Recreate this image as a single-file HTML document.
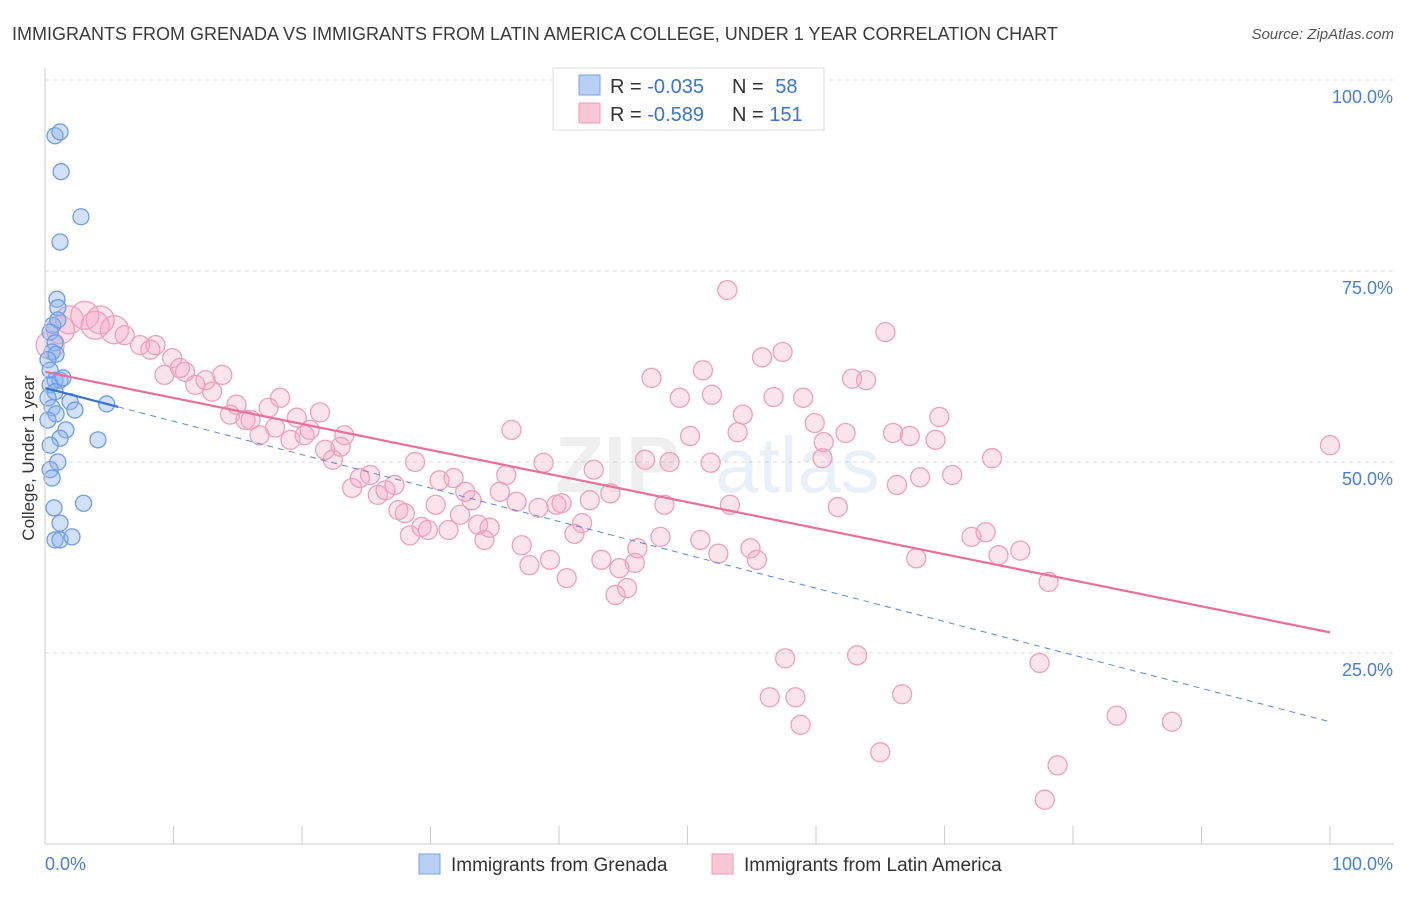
<!DOCTYPE html>
<html><head><meta charset="utf-8"><style>
body{margin:0;background:#fff;font-family:"Liberation Sans",sans-serif;}
svg text{font-family:"Liberation Sans",sans-serif;}
</style></head><body>
<svg id="chart" width="1406" height="892" viewBox="0 0 1406 892" xmlns="http://www.w3.org/2000/svg">
<text x="12" y="40" font-size="18" fill="#3a3a3a">IMMIGRANTS FROM GRENADA VS IMMIGRANTS FROM LATIN AMERICA COLLEGE, UNDER 1 YEAR CORRELATION CHART</text>
<text x="1394" y="39" font-size="15" fill="#555" font-style="italic" text-anchor="end">Source: ZipAtlas.com</text>
<g id="grid"></g>
<g opacity="0.13"><text x="555" y="492" font-size="80" font-weight="bold" fill="#888">ZIP</text><text x="715" y="492" font-size="78" fill="#5b8fd6">atlas</text></g>
<g id="marks"></g>
<g id="axes"></g>
<text transform="translate(34,458) rotate(-90)" font-size="17" fill="#333" text-anchor="middle">College, Under 1 year</text>
<g>
<rect x="553" y="68" width="271" height="62" fill="#fff" stroke="#ddd"/>
<rect x="579" y="75" width="21" height="20" fill="#b8d0f5" stroke="#7ba3e6"/>
<rect x="579" y="103" width="21" height="20" fill="#f9c6d6" stroke="#f09ab5"/>
<text x="610" y="93" font-size="20" fill="#333">R = <tspan fill="#3d74d0">-0.035</tspan></text>
<text x="732" y="93" font-size="20" fill="#333">N = <tspan fill="#3d74d0" dx="6">58</tspan></text>
<text x="610" y="121" font-size="20" fill="#333">R = <tspan fill="#3d74d0">-0.589</tspan></text>
<text x="732" y="121" font-size="20" fill="#333">N = <tspan fill="#3d74d0">151</tspan></text>
</g>
<g>
<rect x="419" y="854" width="21" height="20" fill="#b8d0f5" stroke="#7ba3e6"/>
<text x="451" y="871" font-size="19" fill="#333">Immigrants from Grenada</text>
<rect x="712" y="854" width="21" height="20" fill="#f9c6d6" stroke="#f09ab5"/>
<text x="744" y="871" font-size="19" fill="#333">Immigrants from Latin America</text>
</g>
</svg>
<script>
const yTicks=[25,50,75,100];
const yTickLabels=["25.0%","50.0%","75.0%","100.0%"];
const xTicks=[0,10,20,30,40,50,60,70,80,90,100];
const blueX=[0.78,1.17,1.25,2.8,1.17,0.93,1.0,0.6,1.0,0.4,0.78,0.55,0.86,0.23,0.4,0.78,1.17,1.4,0.4,0.78,0.23,1.95,2.33,0.55,0.86,1.63,1.17,4.12,0.4,1.0,0.4,0.55,3.0,0.7,1.17,0.78,1.17,2.1,4.8,0.23];
const blueY=[92.7,93.2,88.0,82.1,78.8,71.3,70.2,67.9,68.6,67.0,65.6,64.4,64.1,63.4,62.0,60.7,60.7,61.0,60.1,59.2,58.4,57.9,56.8,57.1,56.3,54.2,53.1,52.9,52.2,50.0,49.0,47.9,44.6,44.0,42.0,39.8,39.8,40.2,57.6,55.5];
const pinkX=[0.4,1.2,1.9,3.1,4.3,3.9,5.4,6.2,7.4,8.6,8.2,9.3,9.9,10.5,10.9,11.7,12.5,13.0,13.8,14.4,14.9,15.6,16.0,16.7,17.4,18.3,17.9,19.1,19.6,20.2,20.6,21.4,21.8,22.4,23.0,23.3,23.9,24.5,25.3,25.9,26.5,27.2,27.5,28.0,28.4,28.8,29.3,29.8,30.4,30.7,31.4,31.8,32.3,32.7,33.2,33.7,34.2,34.6,35.4,35.9,36.3,36.7,37.1,37.7,38.4,38.8,39.3,39.8,40.2,40.6,41.2,41.8,42.4,42.7,43.3,44.0,44.4,44.7,45.3,45.9,46.1,46.7,47.2,47.9,48.2,48.6,49.4,50.2,51.0,51.2,51.8,51.9,52.4,53.1,53.3,53.9,54.3,54.9,55.4,55.8,56.4,56.7,57.4,57.6,58.4,58.8,59.0,59.9,60.5,60.6,61.7,62.3,62.8,63.2,63.9,65.0,65.4,66.0,66.3,66.7,67.3,67.8,68.1,69.3,69.6,70.6,72.1,73.2,73.7,74.2,75.9,77.4,77.8,78.1,78.8,83.4,87.7,100];
const pinkY=[65.3,67.3,68.6,69.2,68.6,67.9,67.3,66.6,65.3,65.3,64.7,61.4,63.6,62.3,61.8,60.1,60.7,59.2,61.4,56.2,57.5,55.5,55.5,53.5,57.1,58.4,54.5,52.9,55.8,53.5,54.2,56.5,51.6,50.3,52.0,53.5,46.6,47.9,48.3,45.7,46.3,47.0,43.7,43.3,40.4,50.0,41.5,41.1,44.4,47.6,41.1,47.9,43.1,46.1,45.0,41.8,39.8,41.4,46.1,48.3,54.2,44.8,39.1,36.5,44.0,49.9,37.2,44.4,44.6,34.8,40.6,42.0,45.0,49.0,37.2,45.9,32.6,36.1,33.5,36.8,38.7,50.3,61.0,40.2,44.4,50.0,58.4,53.4,39.8,62.0,49.9,58.8,38.0,72.5,44.4,53.9,56.2,38.7,37.2,63.7,19.2,58.5,64.4,24.3,19.2,15.6,58.4,55.1,50.5,52.6,44.1,53.8,60.9,24.7,60.7,12.0,67.0,53.8,47.0,19.6,53.4,37.4,48.0,52.9,55.9,48.3,40.2,40.8,50.5,37.8,38.4,23.7,5.8,34.3,10.3,16.8,16.0,52.2];
const blueLine=[59.7,-0.437];
const pinkLine=[61.8,-0.341];
const NS="http://www.w3.org/2000/svg";
const X0=45,X1=1330,Y0=844,Y100=80;
const sx=v=>X0+(X1-X0)*v/100;
const sy=v=>Y0-(Y0-Y100)*v/100;
function mk(t,a,p){const e=document.createElementNS(NS,t);for(const k in a)e.setAttribute(k,a[k]);p.appendChild(e);return e;}
const grid=document.getElementById('grid'),axes=document.getElementById('axes'),marks=document.getElementById('marks');
yTicks.forEach((t,i)=>{
 const l=mk('line',{x1:X0,x2:1394,y1:sy(t),y2:sy(t),stroke:'#ddd','stroke-dasharray':'4,4'},grid);
 
 
 const tx=mk('text',{x:1393,y:sy(t)+23,'font-size':18,fill:'#4a7fd4','text-anchor':'end'},axes);
 tx.textContent=yTickLabels[i];
 
 
});
const ax=mk('line',{x1:X0,x2:1394,y1:Y0,y2:Y0,stroke:'#ccc'},axes);


const ay=mk('line',{x1:X0,x2:X0,y1:68,y2:Y0,stroke:'#ccc'},axes);


xTicks.forEach(t=>{
 const l=mk('line',{x1:sx(t),x2:sx(t),y1:Y0-18,y2:Y0,stroke:'#ccc'},axes);
 
 
});
const xl=mk('text',{x:45,y:870,'font-size':18,fill:'#4a7fd4'},axes);xl.textContent='0.0%';


const xr=mk('text',{x:1393,y:870,'font-size':18,fill:'#4a7fd4','text-anchor':'end'},axes);xr.textContent='100.0%';


pinkX.forEach((x,i)=>{
 const r=(x<6&&pinkY[i]>64)?14:9.5;
 const c=mk('circle',{cx:sx(x),cy:sy(pinkY[i]),r:r,fill:'rgba(245,165,195,0.3)',stroke:'#f0a0bb','stroke-width':1.3},marks);
 
 
});
blueX.forEach((x,i)=>{
 const c=mk('circle',{cx:sx(x),cy:sy(blueY[i]),r:8,fill:'rgba(140,180,240,0.4)',stroke:'#6f9ce6','stroke-width':1.3},marks);
 
 
});
const pl=mk('line',{x1:sx(0),y1:sy(pinkLine[0]),x2:sx(100),y2:sy(pinkLine[0]+pinkLine[1]*100),stroke:'#e8709a','stroke-width':2.2},marks);


const bs=mk('line',{x1:sx(0),y1:sy(blueLine[0]),x2:sx(5.7),y2:sy(blueLine[0]+blueLine[1]*5.7),stroke:'#3a72d0','stroke-width':2.2},marks);


const bd=mk('line',{x1:sx(5.7),y1:sy(blueLine[0]+blueLine[1]*5.7),x2:sx(100),y2:sy(blueLine[0]+blueLine[1]*100),stroke:'#5a8ad8','stroke-width':1,'stroke-dasharray':'6,5'},marks);


</script>
</body></html>
